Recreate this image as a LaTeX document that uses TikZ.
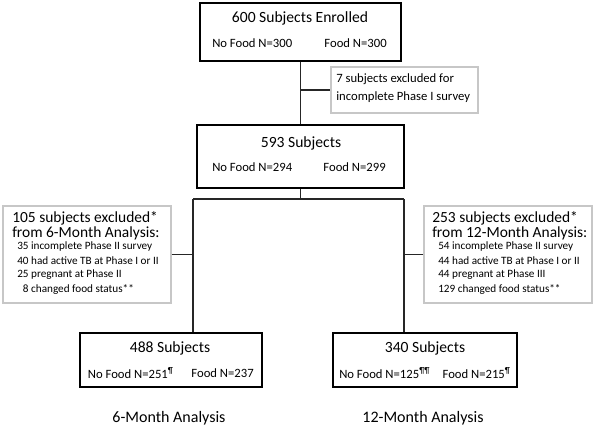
\documentclass[tikz,border=0pt]{standalone}
\usepackage{fontspec}
\setmainfont{Carlito}
\usetikzlibrary{calc}

\begin{document}
\begin{tikzpicture}[x=0.75pt,y=-0.75pt,
    mainbox/.style={draw=black,line width=1.1pt,inner sep=0pt},
    exclbox/.style={draw=black!22,line width=1.1pt,inner sep=0pt},
    link/.style={draw=black!85,line width=0.8pt},
    boxhead/.style={font=\fontsize{11.7}{14}\selectfont,inner sep=0pt},
    boxsub/.style={font=\fontsize{9.5}{11}\selectfont,inner sep=0pt},
    exhead/.style={font=\fontsize{11.6}{14}\selectfont,inner sep=0pt,anchor=west},
    exitem/.style={font=\fontsize{8.4}{10}\selectfont,inner sep=0pt,anchor=west},
    armlabel/.style={font=\fontsize{12}{14}\selectfont,inner sep=0pt}]
  \useasboundingbox (0,0) rectangle (600,430);

  % boxes
  \node[mainbox,minimum width=150.75pt,minimum height=43.5pt] (enrol) at (300.5,32) {};
  \node[exclbox,minimum width=110.25pt,minimum height=34.5pt] (ex1) at (404.5,90) {};
  \node[mainbox,minimum width=155.25pt,minimum height=47.25pt] (base) at (300.5,156.5) {};
  \node[exclbox,minimum width=126pt,minimum height=72.75pt] (ex6) at (87,254.5) {};
  \node[exclbox,minimum width=126pt,minimum height=72.75pt] (ex12) at (508,254.5) {};
  \node[mainbox,minimum width=136.5pt,minimum height=40.5pt] (an6) at (171,360) {};
  \node[mainbox,minimum width=138pt,minimum height=40.5pt] (an12) at (425,360) {};

  % texts in the main boxes
  \node[boxhead] (enrol-h) at (300,18) {600 Subjects Enrolled};
  \node[boxsub,anchor=west] (enrol-l) at (212,43) {No Food N=300};
  \node[boxsub,anchor=east] (enrol-r) at (387,43) {Food N=300};
  \node[boxhead] (base-h) at (301,143) {593 Subjects};
  \node[boxsub,anchor=west] (base-l) at (212,167) {No Food N=294};
  \node[boxsub,anchor=east] (base-r) at (386,167) {Food N=299};
  \node[boxhead] (an6-h) at (170,348) {488 Subjects};
  \node[boxsub,anchor=east] (an6-l) at (174,373) {No Food N=251\textsuperscript{¶}};
  \node[boxsub,anchor=east] (an6-r) at (254,373) {Food N=237};
  \node[boxhead] (an12-h) at (425,348) {340 Subjects};
  \node[boxsub,anchor=west] (an12-l) at (339,373) {No Food N=125\textsuperscript{¶¶}};
  \node[boxsub,anchor=east] (an12-r) at (511,373) {Food N=215\textsuperscript{¶}};

  % exclusions
  \node[boxsub,anchor=west] (ex1-a) at (336,79) {7 subjects excluded for};
  \node[boxsub,anchor=west] (ex1-b) at (336,97) {incomplete Phase I survey};

  \node[exhead] (ex6-a) at (12,218) {105 subjects excluded*};
  \node[exhead] (ex6-b) at (12,233) {from 6-Month Analysis:};
  \foreach[count=\i,evaluate={\y=247+14*(\i-1);}] \txt in {35 incomplete Phase II survey,40 had active TB at Phase I or II,25 pregnant at Phase II,\phantom{0}8 changed food status**} {
    \node[exitem] (ex6-\i) at (17,\y) {\txt};
  }

  \node[exhead] (ex12-a) at (432,218) {253 subjects excluded*};
  \node[exhead] (ex12-b) at (432,233) {from 12-Month Analysis:};
  \foreach[count=\i,evaluate={\y=247+14*(\i-1);}] \txt in {54 incomplete Phase II survey,44 had active TB at Phase I or II,44 pregnant at Phase III,129 changed food status**} {
    \node[exitem] (ex12-\i) at (438,\y) {\txt};
  }

  % arm labels
  \node[armlabel] (lab6) at (169,418) {6-Month Analysis};
  \node[armlabel] (lab12) at (423,418) {12-Month Analysis};

  % connectors
  \coordinate (jl) at (193,199);
  \coordinate (jr) at (404,199);
  \draw[link] (enrol.south) -- (base.north);
  \draw[link] (enrol.south |- ex1.west) -- (ex1.west);
  \draw[link] (base.south) -- (base.south |- jl);
  \draw[link] (jl) -- (jr);
  \draw[link] (jl) -- (jl |- an6.north);
  \draw[link] (jr) -- (jr |- an12.north);
  \draw[link] (ex6.east) -- (ex6.east -| jl);
  \draw[link] (ex12.west) -- (ex12.west -| jr);
\end{tikzpicture}
\end{document}
